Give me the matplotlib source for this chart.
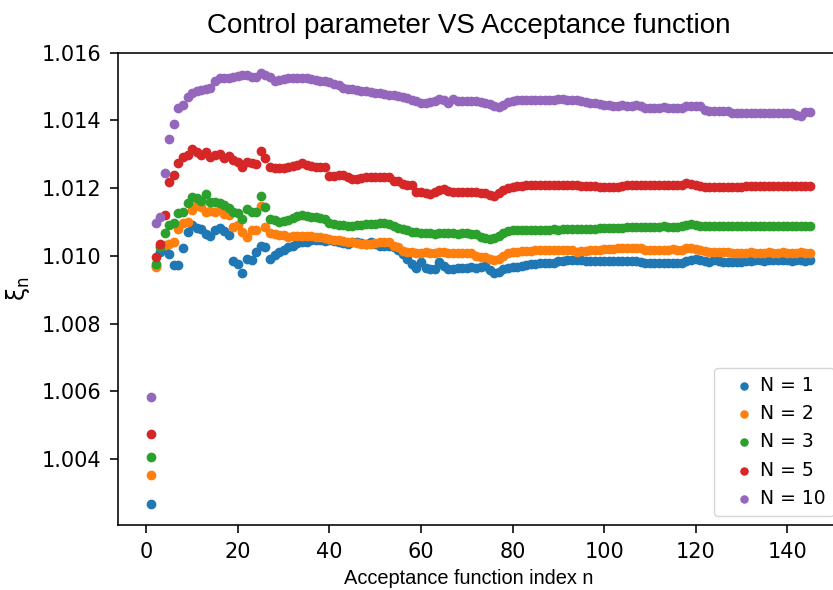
import matplotlib
matplotlib.use("Agg")
import matplotlib.pyplot as plt

# acceptance function index n
n = list(range(1, 146))

xi_N1 = [1.00268, 1.00970, 1.01010, 1.01025, 1.01005, 1.00972, 1.00972, 1.01022, 1.01070, 1.01090,
         1.01082, 1.01078, 1.01065, 1.01060, 1.01075, 1.01083, 1.01072, 1.01062, 1.00985, 1.00975,
         1.00950, 1.00990, 1.00988, 1.01010, 1.01030, 1.01025, 1.00990, 1.01002, 1.01012, 1.01017,
         1.01027, 1.01030, 1.01037, 1.01042, 1.01042, 1.01046, 1.01046, 1.01046, 1.01045, 1.01046,
         1.01044, 1.01040, 1.01038, 1.01036, 1.01040, 1.01040, 1.01038, 1.01036, 1.01040, 1.01036,
         1.01030, 1.01028, 1.01028, 1.01025, 1.01018, 1.01005, 1.00990, 1.00975, 1.00963, 1.00982,
         1.00963, 1.00960, 1.00962, 1.00982, 1.00970, 1.00962, 1.00962, 1.00963, 1.00965, 1.00965,
         1.00966, 1.00965, 1.00968, 1.00970, 1.00958, 1.00948, 1.00952, 1.00960, 1.00964, 1.00967,
         1.00968, 1.00970, 1.00972, 1.00975, 1.00977, 1.00978, 1.00978, 1.00978, 1.00980, 1.00985,
         1.00986, 1.00987, 1.00987, 1.00987, 1.00987, 1.00985, 1.00984, 1.00984, 1.00985, 1.00985,
         1.00984, 1.00985, 1.00986, 1.00986, 1.00985, 1.00984, 1.00985, 1.00983, 1.00979, 1.00979,
         1.00978, 1.00979, 1.00979, 1.00979, 1.00980, 1.00980, 1.00979, 1.00985, 1.00989, 1.00990,
         1.00989, 1.00985, 1.00982, 1.00989, 1.00986, 1.00982, 1.00982, 1.00982, 1.00983, 1.00983,
         1.00984, 1.00986, 1.00987, 1.00987, 1.00986, 1.00987, 1.00987, 1.00988, 1.00987, 1.00987,
         1.00986, 1.00987, 1.00987, 1.00986, 1.00987]

xi_N2 = [1.00353, 1.00968, 1.01028, 1.01032, 1.01035, 1.01040, 1.01078, 1.01098, 1.01100, 1.01135,
         1.01150, 1.01145, 1.01130, 1.01133, 1.01130, 1.01135, 1.01125, 1.01120, 1.01086, 1.01090,
         1.01071, 1.01056, 1.01076, 1.01076, 1.01147, 1.01086, 1.01066, 1.01064, 1.01061, 1.01061,
         1.01056, 1.01059, 1.01060, 1.01060, 1.01058, 1.01058, 1.01055, 1.01055, 1.01052, 1.01050,
         1.01048, 1.01046, 1.01044, 1.01042, 1.01040, 1.01038, 1.01036, 1.01036, 1.01036, 1.01038,
         1.01040, 1.01041, 1.01040, 1.01030, 1.01025, 1.01015, 1.01012, 1.01010, 1.01009, 1.01009,
         1.01010, 1.01009, 1.01008, 1.01010, 1.01011, 1.01009, 1.01009, 1.01008, 1.01009, 1.01009,
         1.01008, 1.01000, 1.00997, 1.00996, 1.00990, 1.00988, 1.00990, 1.01000, 1.01008, 1.01012,
         1.01012, 1.01013, 1.01014, 1.01015, 1.01016, 1.01017, 1.01017, 1.01017, 1.01018, 1.01017,
         1.01017, 1.01017, 1.01016, 1.01012, 1.01014, 1.01015, 1.01016, 1.01017, 1.01018, 1.01019,
         1.01020, 1.01021, 1.01022, 1.01022, 1.01022, 1.01023, 1.01022, 1.01022, 1.01018, 1.01018,
         1.01018, 1.01017, 1.01018, 1.01018, 1.01019, 1.01018, 1.01018, 1.01022, 1.01022, 1.01021,
         1.01018, 1.01015, 1.01012, 1.01012, 1.01012, 1.01011, 1.01012, 1.01009, 1.01009, 1.01009,
         1.01009, 1.01010, 1.01009, 1.01009, 1.01009, 1.01010, 1.01009, 1.01009, 1.01010, 1.01009,
         1.01009, 1.01009, 1.01010, 1.01009, 1.01009]

xi_N3 = [1.00406, 1.00976, 1.01025, 1.01068, 1.01090, 1.01098, 1.01127, 1.01130, 1.01157, 1.01175,
         1.01170, 1.01163, 1.01184, 1.01160, 1.01160, 1.01155, 1.01150, 1.01140, 1.01130, 1.01128,
         1.01110, 1.01137, 1.01130, 1.01130, 1.01178, 1.01143, 1.01110, 1.01105, 1.01100, 1.01102,
         1.01107, 1.01112, 1.01117, 1.01120, 1.01117, 1.01115, 1.01114, 1.01112, 1.01110, 1.01096,
         1.01093, 1.01091, 1.01090, 1.01088, 1.01088, 1.01090, 1.01092, 1.01093, 1.01094, 1.01095,
         1.01096, 1.01096, 1.01094, 1.01088, 1.01082, 1.01078, 1.01075, 1.01071, 1.01070, 1.01067,
         1.01066, 1.01066, 1.01065, 1.01066, 1.01067, 1.01066, 1.01066, 1.01065, 1.01066, 1.01066,
         1.01065, 1.01064, 1.01055, 1.01052, 1.01050, 1.01052, 1.01058, 1.01068, 1.01072, 1.01075,
         1.01076, 1.01076, 1.01076, 1.01077, 1.01076, 1.01077, 1.01077, 1.01077, 1.01078, 1.01077,
         1.01078, 1.01078, 1.01078, 1.01078, 1.01079, 1.01078, 1.01079, 1.01080, 1.01081, 1.01081,
         1.01081, 1.01082, 1.01082, 1.01083, 1.01086, 1.01086, 1.01086, 1.01086, 1.01086, 1.01086,
         1.01086, 1.01086, 1.01087, 1.01086, 1.01086, 1.01086, 1.01087, 1.01090, 1.01094, 1.01092,
         1.01089, 1.01088, 1.01088, 1.01088, 1.01088, 1.01087, 1.01088, 1.01088, 1.01088, 1.01089,
         1.01088, 1.01088, 1.01088, 1.01089, 1.01088, 1.01088, 1.01088, 1.01088, 1.01089, 1.01088,
         1.01088, 1.01088, 1.01088, 1.01088, 1.01088]

xi_N5 = [1.00474, 1.00996, 1.01035, 1.01120, 1.01219, 1.01240, 1.01273, 1.01293, 1.01298, 1.01317,
         1.01307, 1.01298, 1.01307, 1.01293, 1.01298, 1.01302, 1.01288, 1.01295, 1.01283, 1.01278,
         1.01261, 1.01278, 1.01275, 1.01271, 1.01310, 1.01288, 1.01263, 1.01258, 1.01258, 1.01260,
         1.01263, 1.01265, 1.01268, 1.01273, 1.01268, 1.01265, 1.01263, 1.01263, 1.01262, 1.01235,
         1.01236, 1.01238, 1.01238, 1.01232, 1.01228, 1.01228, 1.01230, 1.01232, 1.01234, 1.01234,
         1.01234, 1.01233, 1.01232, 1.01222, 1.01220, 1.01212, 1.01210, 1.01208, 1.01190, 1.01189,
         1.01187, 1.01184, 1.01188, 1.01194, 1.01196, 1.01192, 1.01189, 1.01189, 1.01190, 1.01189,
         1.01189, 1.01189, 1.01187, 1.01186, 1.01180, 1.01178, 1.01185, 1.01194, 1.01200, 1.01204,
         1.01206, 1.01207, 1.01208, 1.01208, 1.01208, 1.01209, 1.01208, 1.01208, 1.01209, 1.01208,
         1.01208, 1.01209, 1.01208, 1.01209, 1.01207, 1.01207, 1.01206, 1.01205, 1.01204, 1.01204,
         1.01204, 1.01204, 1.01204, 1.01206, 1.01208, 1.01208, 1.01208, 1.01209, 1.01208, 1.01208,
         1.01208, 1.01209, 1.01208, 1.01208, 1.01209, 1.01210, 1.01210, 1.01214, 1.01212, 1.01208,
         1.01205, 1.01204, 1.01204, 1.01204, 1.01203, 1.01204, 1.01204, 1.01204, 1.01204, 1.01204,
         1.01205, 1.01205, 1.01205, 1.01206, 1.01205, 1.01205, 1.01205, 1.01205, 1.01206, 1.01205,
         1.01205, 1.01205, 1.01205, 1.01205, 1.01205]

xi_N10 = [1.00584, 1.01098, 1.01115, 1.01245, 1.01346, 1.01388, 1.01437, 1.01446, 1.01470, 1.01482,
          1.01487, 1.01490, 1.01492, 1.01495, 1.01517, 1.01526, 1.01526, 1.01524, 1.01529, 1.01531,
          1.01533, 1.01535, 1.01529, 1.01527, 1.01541, 1.01534, 1.01527, 1.01517, 1.01519, 1.01522,
          1.01524, 1.01524, 1.01525, 1.01525, 1.01526, 1.01522, 1.01520, 1.01517, 1.01516, 1.01514,
          1.01507, 1.01504, 1.01495, 1.01494, 1.01492, 1.01490, 1.01488, 1.01486, 1.01485, 1.01482,
          1.01480, 1.01477, 1.01476, 1.01474, 1.01472, 1.01470, 1.01466, 1.01460, 1.01458, 1.01452,
          1.01450, 1.01453, 1.01458, 1.01462, 1.01460, 1.01452, 1.01462, 1.01458, 1.01456, 1.01456,
          1.01456, 1.01456, 1.01455, 1.01452, 1.01448, 1.01442, 1.01440, 1.01446, 1.01455, 1.01458,
          1.01460, 1.01460, 1.01461, 1.01460, 1.01460, 1.01461, 1.01461, 1.01460, 1.01461, 1.01462,
          1.01462, 1.01461, 1.01461, 1.01460, 1.01458, 1.01455, 1.01452, 1.01450, 1.01448, 1.01446,
          1.01445, 1.01444, 1.01444, 1.01445, 1.01444, 1.01444, 1.01445, 1.01444, 1.01438, 1.01438,
          1.01438, 1.01438, 1.01439, 1.01438, 1.01438, 1.01438, 1.01438, 1.01442, 1.01442, 1.01442,
          1.01442, 1.01430, 1.01427, 1.01427, 1.01427, 1.01427, 1.01427, 1.01422, 1.01422, 1.01421,
          1.01422, 1.01422, 1.01422, 1.01422, 1.01422, 1.01422, 1.01423, 1.01422, 1.01422, 1.01422,
          1.01421, 1.01415, 1.01412, 1.01424, 1.01425]

series = [xi_N1, xi_N2, xi_N3, xi_N5, xi_N10]
labels = ["N = 1", "N = 2", "N = 3", "N = 5", "N = 10"]

fig = plt.figure(figsize=(8.33, 5.9), dpi=100)
# right spine falls outside the picture, as in the reference
ax = fig.add_axes([118 / 833, 65 / 590, 725 / 833, 472.3 / 590])

for ys, lab in zip(series, labels):
    ax.scatter(n, ys, s=36, label=lab)

ax.set_ylim(1.00205, 1.016)
ax.set_xticks([0, 20, 40, 60, 80, 100, 120, 140])
ax.set_yticks([1.004, 1.006, 1.008, 1.010, 1.012, 1.014, 1.016])
ax.tick_params(labelsize=15, width=1.15, length=5.5, pad=6.5)
for sp in ax.spines.values():
    sp.set_linewidth(1.15)

ax.set_title("Control parameter VS Acceptance function", fontsize=20,
             family="Liberation Sans", x=0.484, pad=14)
ax.set_xlabel("Acceptance function index n", fontsize=14.4,
              family="Liberation Sans", x=0.484, labelpad=5)
ax.set_ylabel(r"ξ$_\mathrm{n}$", fontsize=17, labelpad=7)
ax.legend(loc="lower right", fontsize=13.5, handlelength=2.4,
          handletextpad=-0.34, markerscale=0.85)

fig.savefig("out.png", dpi=100)
